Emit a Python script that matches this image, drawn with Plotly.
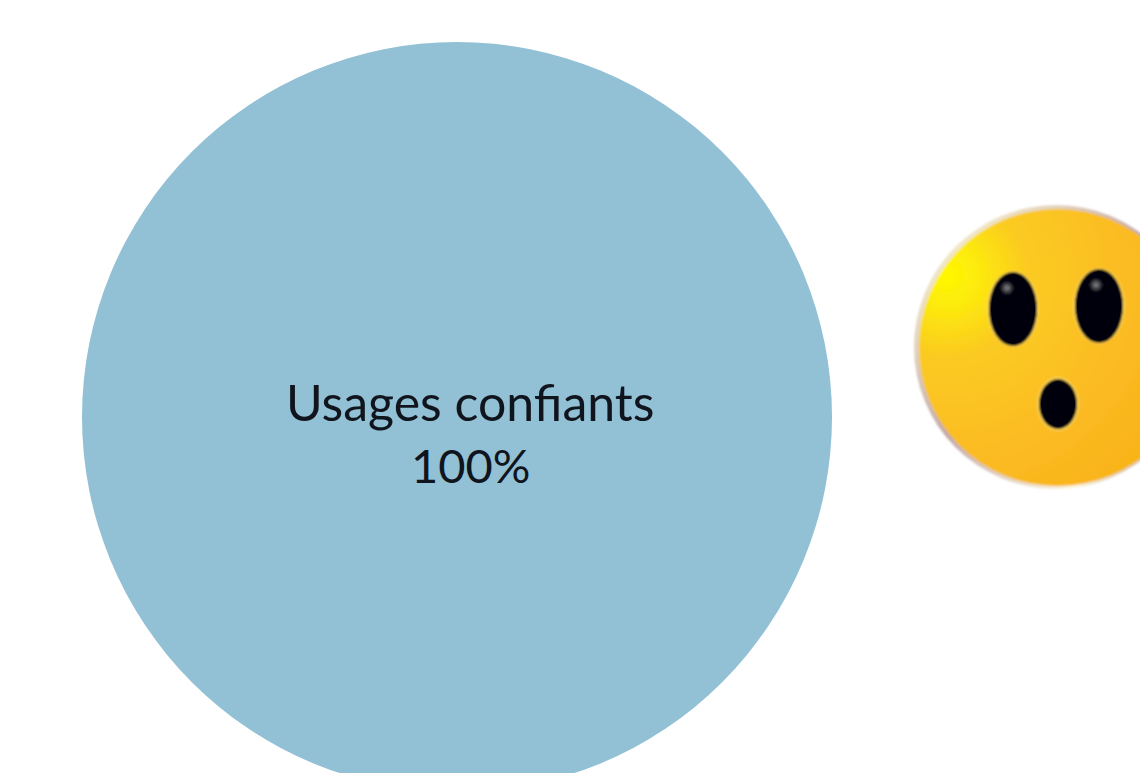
import base64
import plotly.graph_objects as go

# Chart data
labels = ["Usages confiants"]
values = [100]
slice_colors = ["#92C0D5"]

# Canvas is taller than the window so the disc can run past the lower edge
WIDTH, HEIGHT = 1140, 834
PIE_CX, PIE_CY, PIE_R = 457, 417, 375

# Surprised face, with its gradients, drawn as an SVG image
FACE_SVG = """<svg xmlns="http://www.w3.org/2000/svg" width="300" height="300" viewBox="0 0 300 300">
<defs>
<radialGradient id="body" cx="0.1" cy="0.24" r="1.1">
<stop offset="0" stop-color="#FFF800"/>
<stop offset="0.1" stop-color="#FDEB0C"/>
<stop offset="0.26" stop-color="#FBCB20"/>
<stop offset="0.6" stop-color="#FBBB24"/>
<stop offset="1" stop-color="#F8B012"/>
</radialGradient>
<linearGradient id="rim" x1="0.1" y1="0.1" x2="0.9" y2="0.9">
<stop offset="0" stop-color="#F8F0CC"/>
<stop offset="0.45" stop-color="#C4AAA8"/>
<stop offset="0.85" stop-color="#FBF3D8"/>
<stop offset="1" stop-color="#C4A890"/>
</linearGradient>
<radialGradient id="shine">
<stop offset="0" stop-color="#8A8A8A"/>
<stop offset="1" stop-color="#050510"/>
</radialGradient>
<filter id="soft" x="-5%" y="-5%" width="110%" height="110%"><feGaussianBlur stdDeviation="0.8"/></filter>
</defs>
<g filter="url(#soft)">
<circle cx="150" cy="150" r="142" fill="url(#rim)"/>
<circle cx="151.5" cy="150.5" r="138.5" fill="url(#body)"/>
<ellipse cx="107" cy="112" rx="26" ry="38" fill="#FCD35A"/>
<ellipse cx="193" cy="109" rx="26" ry="38" fill="#FCD35A"/>
<ellipse cx="152" cy="207" rx="21" ry="27" fill="#FCD35A"/>
<ellipse cx="107" cy="112" rx="24" ry="37" fill="#04040C"/>
<ellipse cx="193" cy="109" rx="24" ry="37" fill="#04040C"/>
<ellipse cx="152" cy="207" rx="19" ry="25" fill="#04040C"/>
<circle cx="101" cy="91" r="7" fill="url(#shine)"/>
<circle cx="190" cy="88" r="7" fill="url(#shine)"/>
</g>
</svg>"""
face_uri = "data:image/svg+xml;base64," + base64.b64encode(FACE_SVG.encode()).decode()

fig = go.Figure(
    go.Pie(
        labels=labels,
        values=values,
        marker=dict(colors=slice_colors, line=dict(width=0)),
        textinfo="none",
        sort=False,
        domain=dict(
            x=[(PIE_CX - PIE_R) / WIDTH, (PIE_CX + PIE_R) / WIDTH],
            y=[1 - (PIE_CY + PIE_R) / HEIGHT, 1 - (PIE_CY - PIE_R) / HEIGHT],
        ),
    )
)

# Slice label, placed off-centre inside the disc, one annotation per line
for text, centre_y, size in [(labels[0], 402, 50), (f"{values[0]}%", 465, 47)]:
    fig.add_annotation(
        xref="paper", yref="paper",
        x=470 / WIDTH, y=1 - centre_y / HEIGHT,
        text=text,
        showarrow=False,
        font=dict(family="Lato, Carlito, sans-serif", size=size, color="#10141C"),
    )

fig.add_layout_image(
    source=face_uri,
    xref="paper", yref="paper",
    x=906 / WIDTH, y=1 - 197 / HEIGHT,
    sizex=300 / WIDTH, sizey=300 / HEIGHT,
    xanchor="left", yanchor="top",
    sizing="stretch", layer="above",
)

fig.update_layout(
    width=WIDTH, height=HEIGHT,
    margin=dict(l=0, r=0, t=0, b=0),
    paper_bgcolor="white",
    plot_bgcolor="white",
    showlegend=False,
)

fig.write_html(
    "out.html",
    config=dict(displayModeBar=False),
    post_script="document.documentElement.style.overflow='hidden';document.body.style.overflow='hidden';",
)
